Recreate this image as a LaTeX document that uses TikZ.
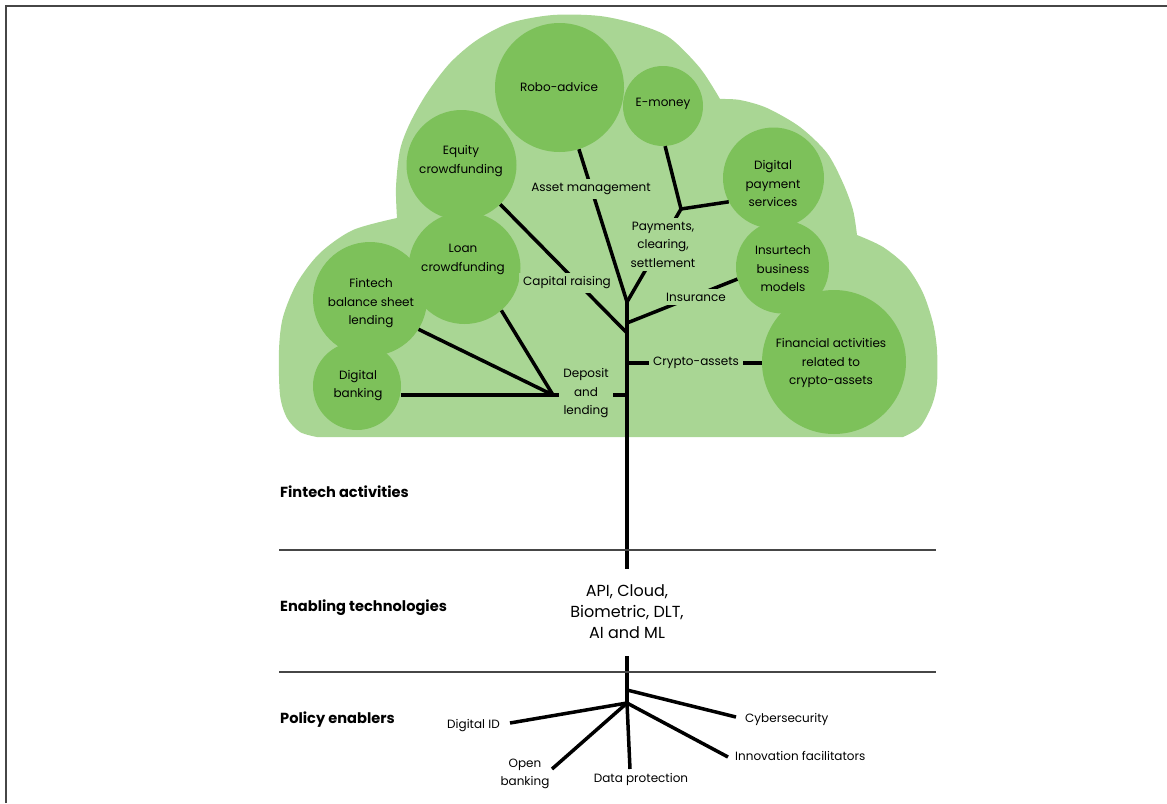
\documentclass[tikz,border=0pt]{standalone}
\usepackage{fontspec}
\setmainfont{Poppins}
\definecolor{cloud}{RGB}{169,214,148}
\definecolor{leaf}{RGB}{125,193,90}
\definecolor{rule}{RGB}{70,70,70}
\tikzset{
  leafnode/.style={circle, fill=leaf, draw=none, inner sep=0pt},
  leaftext/.style={align=center, inner sep=0pt, font=\fontsize{12}{18.5}\selectfont},
  branch/.style={line width=3.5pt, draw=black},
  blabel/.style={fill=cloud, align=center, inner sep=4pt, font=\fontsize{12}{18.5}\selectfont},
  rlabel/.style={align=center, inner sep=0pt, font=\fontsize{12}{18}\selectfont},
  techtext/.style={align=center, inner sep=0pt, font=\fontsize{16}{21}\selectfont},
  section/.style={anchor=west, inner sep=0pt, font=\bfseries\fontsize{14.6}{17}\selectfont},
  seprule/.style={line width=1.3pt, draw=rule},
}
\begin{document}
\begin{tikzpicture}[x=1pt,y=-1pt]
\useasboundingbox (0,0) rectangle (1167,803);
% frame
\draw[line width=2pt, draw=rule] (6,803) -- (6,6) -- (1167,6);
% cloud
\fill[cloud] (317,437)
 -- plot[smooth] coordinates {(317,437) (300,432) (287,418) (280,395) (279,350) (283,317) (297,283) (320,253) (353,230) (397,218)}
 -- plot[smooth] coordinates {(397,218) (396,187) (400,150) (410,123) (427,93) (450,63) (477,40) (510,23) (553,15) (600,16) (640,25) (670,38) (700,68) (720,99)}
 -- plot[smooth] coordinates {(720,99) (740,100) (767,108) (800,127) (827,153) (843,183) (853,210) (857,235)}
 -- plot[smooth] coordinates {(857,235) (883,247) (907,267) (923,293) (933,323) (937,350) (937,383) (932,405) (920,427) (903,437)}
 -- cycle;
% leaves
\node[leafnode, minimum size=129pt] (robo) at (559.5,87.5) {};
\node[leafnode, minimum size=80pt] (emoney) at (663,106) {};
\node[leafnode, minimum size=110pt] (equity) at (461.5,165) {};
\node[leafnode, minimum size=112pt] (loan) at (464.5,268) {};
\node[leafnode, minimum size=114pt] (fbsl) at (370,299) {};
\node[leafnode, minimum size=88pt] (dbank) at (357,386) {};
\node[leafnode, minimum size=101pt] (dps) at (773.5,178) {};
\node[leafnode, minimum size=93pt] (insurtech) at (782.5,267) {};
\node[leafnode, minimum size=144pt] (cryptoc) at (834,362) {};
\node[leaftext] (robo-t) at (559,87) {Robo-advice};
\node[leaftext] (emoney-t) at (663,104) {E-money};
\node[leaftext] (equity-t) at (461,161) {Equity\\crowdfunding};
\node[leaftext] (loan-t) at (463,259.5) {Loan\\crowdfunding};
\node[leaftext] (fbsl-t) at (371,303.5) {Fintech\\balance sheet\\lending};
\node[leaftext] (dbank-t) at (358,385.5) {Digital\\banking};
\node[leaftext] (dps-t) at (773,183.5) {Digital\\payment\\services};
\node[leaftext] (insurtech-t) at (783,269) {Insurtech\\business\\models};
\node[leaftext] (cryptoc-t) at (831,363) {Financial activities\\related to\\crypto-assets};
% trunk coordinates
\coordinate (apex) at (627,302);
\coordinate (tend) at (627,569);
\coordinate (fork) at (681,209);
\coordinate (ij) at (627,323);
\coordinate (cj) at (627,333);
\coordinate (crj) at (627,363);
\coordinate (dj) at (627,395);
\coordinate (dlj) at (553,395);
\coordinate (rs) at (627,656);
\coordinate (r1) at (627,690);
\coordinate (r2) at (627,703);
\coordinate (e-cyber) at (736,717);
\coordinate (e-digid) at (510,723);
\coordinate (e-open) at (552,769);
\coordinate (e-data) at (630,769);
\coordinate (e-innov) at (728,757);
% branches
\draw[branch] (apex) -- (tend);
\draw[branch] (apex) -- (robo);
\draw[branch] (apex) -- (fork);
\draw[branch] (fork) -- (emoney.-87);
\draw[branch] (fork) -- (dps.208);
\draw[branch] (cj) -- (equity);
\draw[branch] (ij) -- (insurtech.195);
\draw[branch] (crj) -- (crj -| cryptoc.west);
\draw[branch] (dj) -- (dlj);
\draw[branch] (dlj) -- (dlj -| dbank.east);
\draw[branch] (dlj) -- (fbsl.-32);
\draw[branch] (dlj) -- (loan.-49);
% roots
\draw[branch] (rs) -- (r2);
\draw[branch] (r1) -- (e-cyber);
\draw[branch] (r2) -- (e-digid);
\draw[branch] (r2) -- (e-open);
\draw[branch] (r2) -- (e-data);
\draw[branch] (r2) -- (e-innov);
% branch labels
\node[blabel] (asset) at (591,189) {Asset management};
\node[blabel] (payments) at (663,244.5) {Payments,\\clearing,\\settlement};
\node[blabel] (capital) at (567,283) {Capital raising};
\node[blabel] (insurance) at (696,297) {Insurance};
\node[blabel] (crypto) at (696,363) {Crypto-assets};
\node[blabel] (deposit) at (586,393.5) {Deposit\\and\\lending};
% separators
\draw[seprule] (279,550) -- (936,550);
\draw[seprule] (279,672) -- (936,672);
% sections
\node[section] (sec1) at (280,492) {Fintech activities};
\node[section] (sec2) at (280,608) {Enabling technologies};
\node[section] (sec3) at (280,720) {Policy enablers};
\node[techtext] (tech) at (627,612) {API, Cloud,\\Biometric, DLT,\\AI and ML};
% root labels
\node[rlabel, anchor=east] (digid) at (500,726) {Digital ID};
\node[rlabel] (open) at (525,774) {Open\\banking};
\node[rlabel] (data) at (641,779) {Data protection};
\node[rlabel, anchor=west] (cyber) at (745,719) {Cybersecurity};
\node[rlabel, anchor=west] (innov) at (735,756) {Innovation facilitators};
\end{tikzpicture}
\end{document}
